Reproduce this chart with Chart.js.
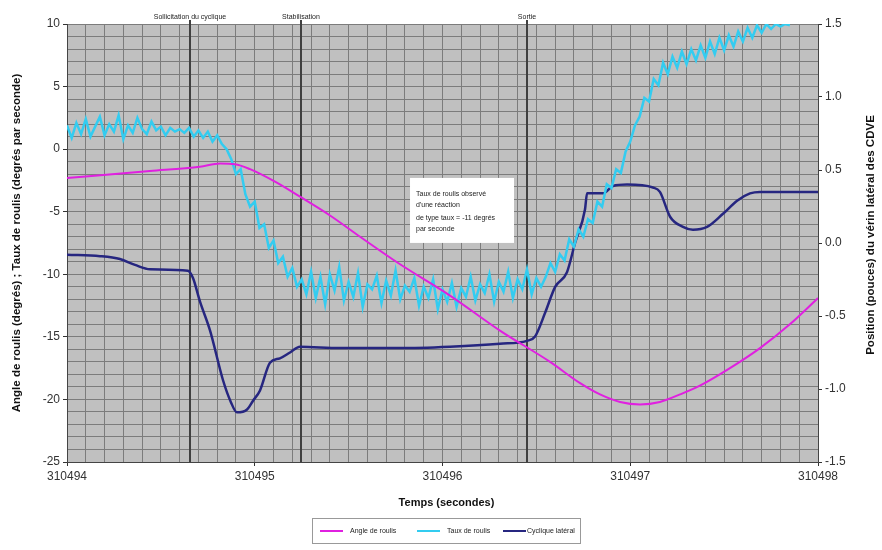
<!DOCTYPE html>
<html>
<head>
<meta charset="utf-8">
<script src="https://cdn.jsdelivr.net/npm/chart.js@4.4.0/dist/chart.umd.min.js"></script>
<style>
body{margin:0;background:#fff}
#wrap{position:relative;width:882px;height:550px}
</style>
</head>
<body>
<div id="wrap"><canvas id="c" width="882" height="550"></canvas></div>
<script>
// time axis (seconds)
const X_MIN=310494, X_MAX=310498;

// Angle de roulis (degrés) - left axis
const angleTimes=[310494.000,310494.442,310494.708,310494.815,310494.895,310494.975,310495.108,310495.241,310495.401,310495.561,310495.774,310496.040,310496.306,310496.573,310496.733,310496.839,310496.946,310497.052,310497.158,310497.265,310497.371,310497.531,310497.691,310497.850,310498.000];
const angleValues=[-2.3,-1.75,-1.4,-1.15,-1.2,-1.6,-2.6,-3.8,-5.3,-7.0,-9.2,-11.7,-14.5,-17.0,-18.7,-19.6,-20.2,-20.4,-20.2,-19.6,-18.9,-17.5,-15.9,-14.0,-11.9];

// Taux de roulis (degrés par seconde) - left axis, sampled every 0.025 s
const rateStart=310494, rateStep=0.025;
const rateValues=[
  1.9,0.9,2.1,1.2,2.4,1.0,1.8,2.6,1.1,2.0,1.4,2.7,0.8,1.9,1.3,2.5,1.6,1.2,2.2,1.5,1.8,1.1,1.7,1.4,1.6,
  1.3,1.7,1.0,1.5,0.9,1.4,0.6,1.1,0.4,0.0,
  -0.8,-2.0,-1.6,-3.6,-4.6,-4.2,-6.3,-6.0,-7.9,-7.3,-9.1,-8.6,-10.2,-9.5,-11.0,-10.4,
  -11.6,-9.8,-11.9,-10.2,-12.4,-10.0,-11.3,-9.4,-12.1,-10.6,-11.8,-9.9,-12.6,-10.8,-11.2,-10.1,-12.3,-10.5,-11.7,-9.7,
  -12.0,-10.9,-11.4,-10.3,-12.5,-11.0,-11.9,-10.4,-12.8,-11.2,-12.2,-10.7,-12.6,-11.1,-11.8,-10.2,-12.1,-10.8,-11.5,-10.0,
  -12.2,-10.6,-11.4,-9.8,-11.9,-10.4,-11.2,-9.6,-11.6,-10.3,-11.0,
  -10.2,-9.1,-9.8,-8.4,-8.9,-7.2,-7.8,-6.4,-7.0,-5.6,-5.9,-4.2,-4.6,-2.8,-3.1,-1.6,-1.9,-0.2,0.6,1.9,2.6,
  4.1,3.8,5.6,5.1,6.9,6.0,7.4,6.5,7.8,6.8,8.0,7.1,8.3,7.3,8.6,7.6,8.9,7.9,9.1,8.2,9.4,8.6,9.7,8.9,9.9,9.3,10.0,9.6,10.0,9.8,10.0,9.9
];

// Cyclique latéral (pouces) - right axis
const cycTimes=[310494.000,310494.176,310494.282,310494.362,310494.442,310494.644,310494.671,310494.708,310494.762,310494.831,310494.873,310494.905,310494.959,310494.991,310495.028,310495.081,310495.134,310495.188,310495.241,310495.454,310495.774,310496.040,310496.306,310496.450,310496.493,310496.546,310496.600,310496.663,310496.706,310496.759,310496.770,310496.855,310496.908,310496.983,310497.121,310497.158,310497.212,310497.281,310497.334,310497.409,310497.494,310497.569,310497.638,310497.691,310498.000];
const cycValues=[-0.08,-0.09,-0.11,-0.15,-0.18,-0.19,-0.24,-0.40,-0.60,-0.94,-1.09,-1.16,-1.14,-1.08,-1.01,-0.82,-0.79,-0.75,-0.71,-0.72,-0.72,-0.71,-0.69,-0.67,-0.64,-0.48,-0.30,-0.20,0.00,0.23,0.34,0.34,0.39,0.40,0.38,0.35,0.18,0.11,0.09,0.11,0.20,0.29,0.34,0.35,0.35];

const eventTimes=[310494.655,310495.246,310496.450];
const eventLabels=['Sollicitation du cyclique','Stabilisation','Sortie'];
const noteLines=['Taux de roulis observé',"d'une réaction",'de type taux = -11 degrés','par seconde'];
const noteAnchor={t:310495.827,v:-2.3};
const seriesNames=['Angle de roulis','Taux de roulis','Cyclique latéral'];
const seriesColors=['#e020e0','#33ccf0','#262680'];

const FONT='"Liberation Sans", Arial, sans-serif';
const isInt=v=>Math.abs(v-Math.round(v))<1e-6;

const overlay={
  id:'overlay',
  beforeDraw(chart){
    const {ctx,chartArea:a}=chart;
    ctx.save();
    ctx.fillStyle='#c0c0c0';
    ctx.fillRect(a.left,a.top,a.right-a.left,a.bottom-a.top);
    ctx.restore();
  },
  beforeDatasetsDraw(chart){
    const {ctx,chartArea:a,scales}=chart;
    ctx.save();
    ctx.strokeStyle='#404040'; ctx.lineWidth=2;
    eventTimes.forEach(t=>{
      const x=Math.round(scales.x.getPixelForValue(t));
      ctx.beginPath(); ctx.moveTo(x,a.top-4); ctx.lineTo(x,a.bottom); ctx.stroke();
    });
    ctx.restore();
  },
  afterDraw(chart){
    const {ctx,chartArea:a,scales}=chart;
    ctx.save();
    // event labels
    ctx.fillStyle='#222'; ctx.font='7px '+FONT; ctx.textAlign='center'; ctx.textBaseline='middle';
    eventTimes.forEach((t,i)=>ctx.fillText(eventLabels[i],scales.x.getPixelForValue(t),17));
    // note box
    const bx=scales.x.getPixelForValue(noteAnchor.t), by=scales.y.getPixelForValue(noteAnchor.v);
    ctx.fillStyle='#fff'; ctx.fillRect(bx,by,104,65);
    ctx.fillStyle='#222'; ctx.textAlign='left'; ctx.font='7px '+FONT;
    [16,27,40,51].forEach((dy,i)=>ctx.fillText(noteLines[i],bx+6,by+dy));
    // axis titles
    ctx.fillStyle='#111'; ctx.font='bold 11.5px '+FONT; ctx.textAlign='center';
    const cy=(a.top+a.bottom)/2;
    ctx.save(); ctx.translate(17,cy); ctx.rotate(-Math.PI/2);
    ctx.fillText('Angle de roulis (degrés) ; Taux de roulis (degrés par seconde)',0,0); ctx.restore();
    ctx.save(); ctx.translate(871,cy-8); ctx.rotate(-Math.PI/2);
    ctx.fillText('Position (pouces) du vérin latéral des CDVE',0,0); ctx.restore();
    ctx.font='bold 11px '+FONT;
    ctx.fillText('Temps (secondes)',(a.left+a.right)/2+4,503);
    // legend
    ctx.strokeStyle='#999'; ctx.lineWidth=1;
    ctx.strokeRect(312.5,518.5,268,25);
    const lx=[320,417,503];
    ctx.font='7px '+FONT; ctx.textAlign='left';
    seriesNames.forEach((n,i)=>{
      ctx.strokeStyle=seriesColors[i]; ctx.lineWidth=2;
      ctx.beginPath(); ctx.moveTo(lx[i],531); ctx.lineTo(lx[i]+23,531); ctx.stroke();
      ctx.fillStyle='#222'; ctx.fillText(n,lx[i]+(i===2?24:30),531);
    });
    ctx.restore();
  }
};

const majorTick=(c,major)=>major?'#333':'rgba(0,0,0,0)';

new Chart(document.getElementById('c'),{
  type:'line',
  data:{datasets:[
    {label:seriesNames[0],data:angleTimes.map((t,i)=>({x:t,y:angleValues[i]})),borderColor:seriesColors[0],borderWidth:2,yAxisID:'y',order:1},
    {label:seriesNames[1],data:rateValues.map((v,i)=>({x:rateStart+i*rateStep,y:v})),borderColor:seriesColors[1],borderWidth:2.5,tension:0,cubicInterpolationMode:'default',yAxisID:'y',order:2},
    {label:seriesNames[2],data:cycTimes.map((t,i)=>({x:t,y:cycValues[i]})),borderColor:seriesColors[2],borderWidth:2.5,yAxisID:'y2',order:3}
  ]},
  options:{
    responsive:false,animation:false,
    elements:{point:{radius:0},line:{tension:0.3,cubicInterpolationMode:'monotone'}},
    layout:{padding:{top:24,left:0,right:0,bottom:0}},
    plugins:{legend:{display:false},tooltip:{enabled:false}},
    scales:{
      x:{type:'linear',min:X_MIN,max:X_MAX,
        afterFit(s){s.height=88},
        border:{color:'#444'},
        grid:{color:'#7c7c7c',lineWidth:1,tickLength:4,tickColor:c=>majorTick(c,isInt(c.tick.value))},
        ticks:{stepSize:0.1,autoSkip:false,maxTicksLimit:100,maxRotation:0,padding:3,color:'#333',font:{family:FONT,size:12},
          callback:v=>isInt(v)?String(Math.round(v)):''}},
      y:{position:'left',min:-25,max:10,
        afterFit(s){s.width=67},
        border:{color:'#444'},
        grid:{color:'#7c7c7c',lineWidth:1,tickLength:4,tickColor:c=>majorTick(c,Math.round(c.tick.value)%5===0)},
        ticks:{stepSize:1,autoSkip:false,maxTicksLimit:100,padding:3,color:'#333',font:{family:FONT,size:12},
          callback:v=>Math.round(v)%5===0?String(Math.round(v)):''}},
      y2:{position:'right',min:-1.5,max:1.5,
        afterFit(s){s.width=64},
        border:{color:'#444'},
        grid:{drawOnChartArea:false,tickLength:4,tickColor:'#333'},
        ticks:{stepSize:0.5,padding:3,color:'#333',font:{family:FONT,size:12},callback:v=>v.toFixed(1)}}
    }
  },
  plugins:[overlay]
});
</script>
</body>
</html>
